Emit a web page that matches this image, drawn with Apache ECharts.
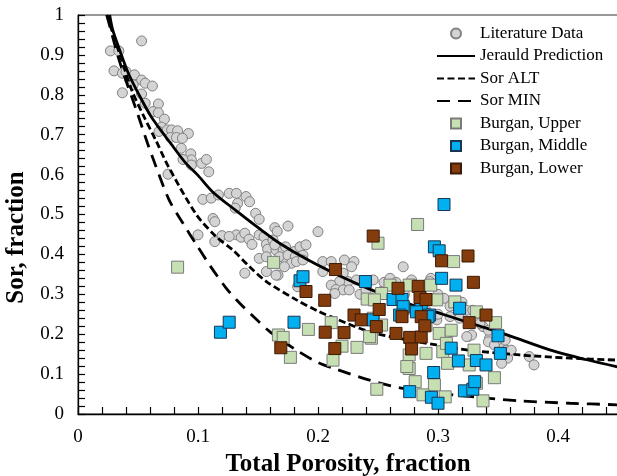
<!DOCTYPE html>
<html>
<head>
<meta charset="utf-8">
<script src="https://cdn.jsdelivr.net/npm/echarts@6/dist/echarts.min.js"></script>
<style>
  html, body { margin: 0; padding: 0; background: #fff; }
  #chart { width: 617px; height: 476px; }
</style>
</head>
<body>
<div id="chart"></div>
<script>
// porosity (x) / Sor (y) pairs
const literatureData = [
  [0.027, 0.91], [0.034, 0.91], [0.053, 0.935],
  [0.030, 0.86], [0.037, 0.854], [0.040, 0.858], [0.043, 0.839], [0.047, 0.85], [0.053, 0.837],
  [0.056, 0.829], [0.062, 0.822], [0.037, 0.805], [0.046, 0.825], [0.053, 0.802],
  [0.056, 0.779], [0.067, 0.777], [0.0625, 0.758], [0.067, 0.755], [0.072, 0.739], [0.0695, 0.719],
  [0.0675, 0.708], [0.0745, 0.712], [0.078, 0.712], [0.083, 0.71], [0.092, 0.703], [0.077, 0.693],
  [0.082, 0.693], [0.087, 0.691],
  [0.086, 0.666], [0.094, 0.652], [0.0945, 0.637], [0.0875, 0.638], [0.103, 0.628], [0.107, 0.638],
  [0.0945, 0.624], [0.075, 0.601], [0.109, 0.607],
  [0.104, 0.538], [0.111, 0.541], [0.117, 0.549], [0.126, 0.553], [0.132, 0.553], [0.14, 0.545],
  [0.143, 0.532], [0.133, 0.528], [0.131, 0.516], [0.1125, 0.49], [0.114, 0.482], [0.148, 0.503],
  [0.151, 0.488], [0.164, 0.467], [0.175, 0.471], [0.2, 0.457],
  [0.1, 0.449], [0.114, 0.432], [0.132, 0.449], [0.136, 0.443], [0.139, 0.453], [0.1425, 0.438],
  [0.145, 0.425], [0.151, 0.449], [0.155, 0.444], [0.157, 0.425], [0.1625, 0.436], [0.158, 0.413],
  [0.165, 0.411], [0.171, 0.411], [0.173, 0.419], [0.18, 0.407],
  [0.151, 0.39], [0.157, 0.394], [0.168, 0.394], [0.1735, 0.378], [0.18, 0.386], [0.139, 0.353],
  [0.157, 0.357], [0.1667, 0.348], [0.164, 0.424], [0.185, 0.419], [0.19, 0.424], [0.175, 0.398],
  [0.181, 0.394], [0.1875, 0.398], [0.178, 0.378], [0.182, 0.382], [0.1875, 0.386], [0.172, 0.369],
  [0.165, 0.348],
  [0.204, 0.382], [0.204, 0.357], [0.211, 0.382], [0.222, 0.386], [0.23, 0.382], [0.228, 0.369],
  [0.221, 0.353], [0.225, 0.332], [0.218, 0.332], [0.211, 0.323], [0.215, 0.312], [0.221, 0.311],
  [0.226, 0.311], [0.214, 0.302], [0.232, 0.336], [0.183, 0.319],
  [0.271, 0.369], [0.246, 0.336], [0.253, 0.307], [0.294, 0.34], [0.278, 0.336], [0.293, 0.332],
  [0.31, 0.244], [0.318, 0.24], [0.324, 0.26], [0.329, 0.26], [0.335, 0.248], [0.325, 0.194],
  [0.3375, 0.219], [0.343, 0.19], [0.346, 0.177], [0.354, 0.165], [0.357, 0.16], [0.358, 0.14],
  [0.353, 0.127], [0.376, 0.144], [0.38, 0.123], [0.335, 0.227], [0.342, 0.21], [0.342, 0.181],
  [0.347, 0.173], [0.356, 0.185], [0.361, 0.16], [0.328, 0.198], [0.299, 0.236], [0.311, 0.206],
  [0.324, 0.194],
  [0.12, 0.447], [0.126, 0.445], [0.166, 0.458],
  [0.235, 0.3], [0.24, 0.31], [0.255, 0.33], [0.26, 0.34], [0.265, 0.33], [0.272, 0.3], [0.3, 0.3],
  [0.305, 0.29], [0.32, 0.28], [0.31, 0.27], [0.3, 0.25], [0.29, 0.26]
];

const jerauldCurve = [
  [0.0264, 1.0], [0.029, 0.962], [0.035, 0.91], [0.0417, 0.856], [0.05, 0.805], [0.061, 0.745],
  [0.078, 0.675], [0.09, 0.628], [0.1, 0.598], [0.1125, 0.556], [0.132, 0.509], [0.151, 0.465],
  [0.168, 0.428], [0.193, 0.384], [0.221, 0.342], [0.243, 0.313], [0.27, 0.282], [0.304, 0.25],
  [0.33, 0.225], [0.357, 0.199], [0.396, 0.158], [0.424, 0.136], [0.45, 0.118]
];

const sorAltCurve = [
  [0.024, 1.0], [0.035, 0.9], [0.045, 0.81], [0.055, 0.745], [0.065, 0.685], [0.075, 0.622],
  [0.0986, 0.5], [0.115, 0.445], [0.129, 0.411], [0.143, 0.369], [0.157, 0.332], [0.182, 0.286],
  [0.2, 0.258], [0.2153, 0.238], [0.243, 0.206], [0.27, 0.188], [0.2986, 0.173], [0.326, 0.16],
  [0.368, 0.148], [0.41, 0.14], [0.45, 0.135]
];

const sorMinCurve = [
  [0.024, 1.0], [0.035, 0.88], [0.0486, 0.762], [0.058, 0.678], [0.065, 0.62], [0.076, 0.536],
  [0.0875, 0.478], [0.0986, 0.425], [0.11, 0.372], [0.1236, 0.315], [0.135, 0.277], [0.149, 0.236],
  [0.16, 0.206], [0.182, 0.16], [0.2, 0.129], [0.2153, 0.112], [0.243, 0.085], [0.271, 0.064],
  [0.3125, 0.048], [0.368, 0.033], [0.41, 0.027], [0.45, 0.023]
];

const burganUpper = [
  [0.083, 0.368], [0.163, 0.38], [0.167, 0.198], [0.171, 0.192], [0.177, 0.142], [0.192, 0.212],
  [0.283, 0.475], [0.25, 0.428], [0.313, 0.382],
  [0.241, 0.288], [0.211, 0.229], [0.22, 0.17], [0.2125, 0.135], [0.2325, 0.167], [0.2445, 0.19],
  [0.249, 0.062],
  [0.26, 0.323], [0.276, 0.323], [0.294, 0.323], [0.299, 0.286], [0.314, 0.281], [0.253, 0.302],
  [0.247, 0.286],
  [0.29, 0.152], [0.276, 0.114], [0.281, 0.081], [0.297, 0.073], [0.306, 0.043], [0.2875, 0.048],
  [0.304, 0.156], [0.308, 0.127], [0.326, 0.123], [0.33, 0.16], [0.332, 0.077], [0.301, 0.202],
  [0.332, 0.256], [0.348, 0.229], [0.347, 0.091], [0.3375, 0.033],
  [0.271, 0.265], [0.246, 0.24], [0.243, 0.194], [0.253, 0.223], [0.29, 0.223], [0.311, 0.21],
  [0.307, 0.177], [0.276, 0.148], [0.274, 0.119]
];

const burganMiddle = [
  [0.1187, 0.205], [0.126, 0.23], [0.18, 0.23], [0.185, 0.334], [0.1875, 0.344],
  [0.305, 0.525], [0.297, 0.419], [0.301, 0.409], [0.303, 0.34], [0.315, 0.323], [0.2395, 0.332],
  [0.2625, 0.287], [0.27, 0.287], [0.271, 0.269], [0.286, 0.27], [0.318, 0.265],
  [0.2458, 0.236], [0.282, 0.256], [0.293, 0.248], [0.311, 0.165], [0.317, 0.133], [0.2964, 0.104],
  [0.2764, 0.056], [0.2945, 0.042], [0.3, 0.027], [0.322, 0.058], [0.329, 0.062], [0.3306, 0.081],
  [0.35, 0.196], [0.352, 0.152], [0.332, 0.134], [0.34, 0.123],
  [0.268, 0.248], [0.2917, 0.244]
];

const burganLower = [
  [0.169, 0.166], [0.19, 0.307], [0.246, 0.446], [0.325, 0.396], [0.303, 0.384], [0.3295, 0.33],
  [0.2145, 0.362], [0.2056, 0.285],
  [0.2667, 0.315], [0.2835, 0.32], [0.285, 0.292], [0.29, 0.287], [0.251, 0.262],
  [0.206, 0.205], [0.2217, 0.204], [0.214, 0.164], [0.23, 0.248], [0.236, 0.236], [0.2486, 0.219],
  [0.27, 0.244], [0.265, 0.202], [0.2764, 0.192], [0.286, 0.193], [0.278, 0.163], [0.286, 0.244],
  [0.289, 0.221], [0.326, 0.229], [0.34, 0.248]
];

const FONT = '"Liberation Serif", "Times New Roman", serif';
const SQUARE = 'path://M0,0L10,0L10,10L0,10Z';
const NO_DOT = { opacity: 0, color: 'transparent', borderWidth: 0 };

// ticks every 0.02, labels only on the tenths
function tenthLabel(v) {
  const t = Math.round(v * 10);
  return Math.abs(v * 10 - t) < 1e-6 ? String(t / 10) : '';
}

function valueAxis(name, max, nameGap, labelMargin, namePadding) {
  return {
    type: 'value',
    min: 0,
    max: max,
    interval: 0.02,
    name: name,
    nameLocation: 'middle',
    nameGap: nameGap,
    nameTextStyle: {
      fontFamily: FONT, fontWeight: 'bold', fontSize: 25, color: '#000',
      padding: namePadding
    },
    axisLine: { show: true, onZero: false, lineStyle: { color: '#000', width: 1.3 } },
    axisTick: { show: true, inside: true, length: 7, lineStyle: { color: '#000', width: 1.2 } },
    minorTick: { show: false },
    splitLine: { show: false },
    axisLabel: {
      formatter: tenthLabel,
      fontFamily: FONT,
      fontSize: 19,
      color: '#000',
      margin: labelMargin,
      showMaxLabel: max === 1
    }
  };
}

function lineSeries(name, data, dash) {
  return {
    name: name,
    type: 'line',
    data: data,
    smooth: 0.3,
    symbol: 'none',
    lineStyle: { color: '#000', width: 2.8, type: dash },
    z: 3
  };
}

function squareSeries(name, data, fill, border) {
  return {
    name: name,
    type: 'scatter',
    data: data,
    symbol: 'rect',
    symbolSize: 12,
    itemStyle: { color: fill, borderColor: border, borderWidth: 1, opacity: 1 },
    z: 4
  };
}

const chart = echarts.init(document.getElementById('chart'));

chart.setOption({
  animation: false,
  backgroundColor: '#fff',
  grid: {
    left: 78,
    top: 15,
    width: 540,
    height: 399,
    containLabel: false,
    outerBoundsMode: 'none',
    show: true,
    borderColor: '#333',
    borderWidth: 1
  },
  legend: {
    orient: 'vertical',
    left: 431,
    top: 20,
    itemWidth: 38,
    itemHeight: 10,
    itemGap: 5.5,
    textStyle: { fontFamily: FONT, fontSize: 17, color: '#000' },
    data: [
      { name: 'Literature Data', icon: 'circle' },
      { name: 'Jerauld Prediction', itemStyle: NO_DOT },
      { name: 'Sor ALT', itemStyle: NO_DOT },
      { name: 'Sor MIN', itemStyle: NO_DOT },
      { name: 'Burgan, Upper', icon: SQUARE },
      { name: 'Burgan, Middle', icon: SQUARE },
      { name: 'Burgan, Lower', icon: SQUARE }
    ]
  },
  xAxis: valueAxis('Total Porosity, fraction', 0.45, 22, 14, 0),
  yAxis: valueAxis('Sor, fraction', 1, 45, 14, [0, 46, 0, 0]),
  series: [
    {
      name: 'Literature Data',
      type: 'scatter',
      data: literatureData,
      symbol: 'circle',
      symbolSize: 10,
      itemStyle: { color: '#d4d4d4', borderColor: '#808080', borderWidth: 1, opacity: 1 },
      z: 2
    },
    lineSeries('Jerauld Prediction', jerauldCurve, 'solid'),
    lineSeries('Sor ALT', sorAltCurve, [7, 3.5]),
    lineSeries('Sor MIN', sorMinCurve, [13, 8]),
    squareSeries('Burgan, Upper', burganUpper, '#c6e0b4', '#7a7a7a'),
    squareSeries('Burgan, Middle', burganMiddle, '#00b0f0', '#1c3550'),
    squareSeries('Burgan, Lower', burganLower, '#843c0c', '#3a1a06')
  ]
});
</script>
</body>
</html>
